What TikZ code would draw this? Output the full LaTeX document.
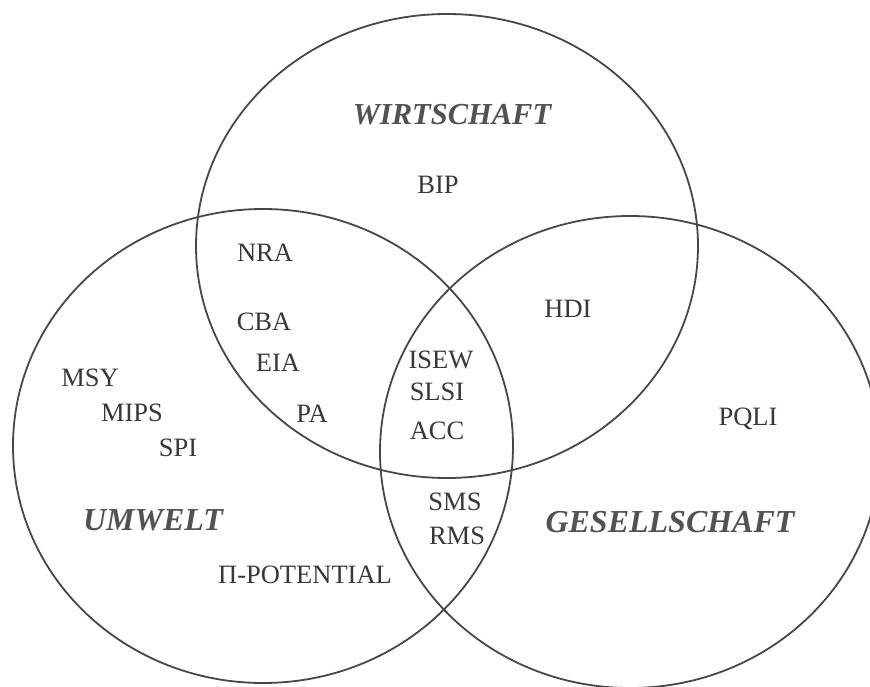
\documentclass[tikz,border=0pt]{standalone}
\usepackage{fontspec}
\setmainfont{Liberation Serif}
\begin{document}
\begin{tikzpicture}[x=1pt,y=-1pt,
  ring/.style={draw=black!72, line width=1.8pt},
  lbl/.style={text=black!78, font=\fontsize{26.5}{30}\selectfont, inner sep=0pt, text depth=0pt},
  ttl/.style={text=black!68, font=\fontsize{32}{36}\selectfont\bfseries\itshape, inner sep=0pt, text depth=0pt}]
\useasboundingbox (0,0) rectangle (870,687);
\fill[white] (0,0) rectangle (870,687);
\begin{scope}
\clip (0,0) rectangle (870,687);
\draw[ring] (447,246) ellipse [x radius=251, y radius=232];
\draw[ring] (263,446) ellipse [x radius=250, y radius=237];
\draw[ring] (630,452) ellipse [x radius=250, y radius=236];
\end{scope}
\node[ttl, font=\fontsize{30.5}{34}\selectfont\bfseries\itshape] (wirt) at (452,114) {WIRTSCHAFT};
\node[ttl] (umw) at (153,520) {UMWELT};
\node[ttl] (ges) at (670,522) {GESELLSCHAFT};
\node[lbl] (bip) at (438,185) {BIP};
\node[lbl] (nra) at (265,253) {NRA};
\node[lbl] (cba) at (264,322) {CBA};
\node[lbl] (eia) at (278,363) {EIA};
\node[lbl] (pa) at (312,414) {PA};
\node[lbl] (hdi) at (568,309) {HDI};
\node[lbl] (isew) at (441,360) {ISEW};
\node[lbl] (slsi) at (437,392) {SLSI};
\node[lbl] (acc) at (437,431) {ACC};
\node[lbl] (msy) at (90,378) {MSY};
\node[lbl] (mips) at (132,413) {MIPS};
\node[lbl] (spi) at (178,448) {SPI};
\node[lbl] (pqli) at (748,417) {PQLI};
\node[lbl] (sms) at (455,502) {SMS};
\node[lbl] (rms) at (457,536) {RMS};
\node[lbl] (pot) at (305,575) {Π-POTENTIAL};
\end{tikzpicture}
\end{document}
